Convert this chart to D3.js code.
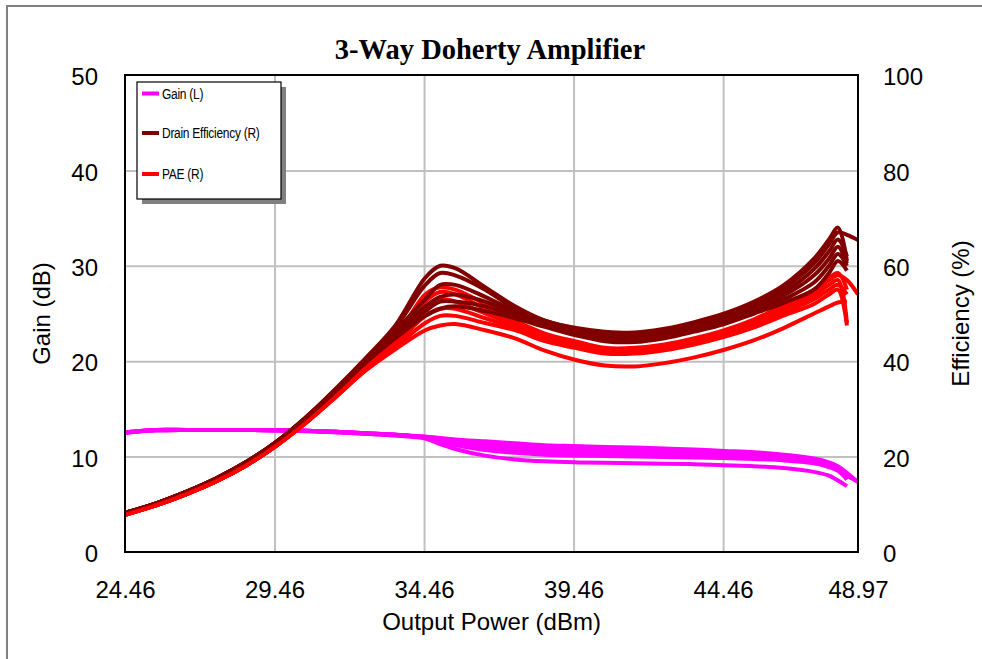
<!DOCTYPE html>
<html>
<head>
<meta charset="utf-8">
<script src="https://cdn.jsdelivr.net/npm/d3@7"></script>
<style>
  body { margin: 0; background: #fff; }
  svg { display: block; }
  text { font-family: "Liberation Sans", Arial, sans-serif; fill: #000; }
  text.title { font-family: "Liberation Serif", "Times New Roman", serif; font-weight: bold; }
</style>
</head>
<body>
<svg id="chart"></svg>
<script>
// output power sweep (dBm), shared by every curve
const pout = [24.46, 25.5, 26.5, 27.5, 28.5, 29.5, 30.5, 31.5, 32.5, 33.5, 34.5, 35.0, 35.5, 36.5, 37.5, 38.5,
              39.5, 40.5, 41.5, 42.5, 43.5, 44.5, 45.5, 46.5, 47.5, 48.0, 48.3, 48.6, 48.97];

// gain (dB), one row per frequency
const gain = [
  [12.55, 12.8, 12.8, 12.8, 12.8, 12.75, 12.7, 12.6, 12.45, 12.3, 12.1, 11.95, 11.8, 11.6, 11.4, 11.2, 11.1, 11.0, 10.95, 10.85, 10.75, 10.6, 10.45, 10.2, 9.8, 9.4, 9.0, 8.3, 7.3],
  [12.55, 12.8, 12.8, 12.8, 12.8, 12.75, 12.7, 12.6, 12.45, 12.3, 12.05, 11.9, 11.7, 11.5, 11.2, 11.0, 10.9, 10.85, 10.8, 10.7, 10.6, 10.5, 10.35, 10.1, 9.7, 9.3, 8.9, 7.6, null],
  [12.5, 12.75, 12.8, 12.8, 12.8, 12.75, 12.7, 12.6, 12.45, 12.3, 12.0, 11.7, 11.4, 11.0, 10.7, 10.5, 10.4, 10.35, 10.3, 10.25, 10.2, 10.1, 10.0, 9.8, 9.5, 9.1, 8.7, 7.8, null],
  [12.5, 12.75, 12.8, 12.8, 12.8, 12.75, 12.7, 12.55, 12.4, 12.25, 12.0, 11.6, 11.2, 10.7, 10.4, 10.2, 10.1, 10.05, 10.0, 9.95, 9.9, 9.85, 9.75, 9.6, 9.3, 8.9, 8.5, 7.6, null],
  [12.5, 12.75, 12.8, 12.8, 12.8, 12.75, 12.65, 12.55, 12.4, 12.2, 11.9, 11.3, 10.8, 10.1, 9.7, 9.5, 9.4, 9.35, 9.3, 9.25, 9.2, 9.1, 9.0, 8.8, 8.4, 8.0, 7.5, 6.9, null],
  [12.55, 12.8, 12.8, 12.8, 12.8, 12.75, 12.7, 12.6, 12.45, 12.3, 12.05, 11.85, 11.65, 11.3, 11.0, 10.8, 10.75, 10.7, 10.65, 10.55, 10.45, 10.35, 10.2, 10.0, 9.6, 9.2, 8.8, 8.0, 7.4]
];

// drain efficiency (%), one row per frequency
const drainEff = [
  [8.2, 10.2, 12.6, 15.4, 18.8, 23.0, 28.2, 34.2, 40.6, 47.5, 57.5, 60.0, 59.5, 55.5, 51.5, 48.5, 47.0, 46.2, 46.0, 46.8, 48.2, 50.0, 52.5, 56.0, 61.5, 65.5, 68.0, 61.0, null],
  [8.2, 10.2, 12.6, 15.4, 18.8, 23.0, 28.2, 34.1, 40.4, 47.0, 56.0, 58.5, 58.0, 55.0, 51.0, 48.5, 46.8, 45.8, 45.6, 46.4, 47.8, 49.6, 52.0, 55.3, 60.5, 64.5, 67.0, 66.5, 65.4],
  [8.2, 10.2, 12.6, 15.4, 18.8, 23.0, 28.1, 34.0, 40.2, 46.3, 53.0, 56.0, 56.0, 53.5, 50.5, 48.0, 46.5, 45.4, 45.2, 46.0, 47.4, 49.2, 51.5, 54.5, 59.3, 63.0, 65.5, 62.0, null],
  [8.2, 10.2, 12.6, 15.4, 18.8, 23.0, 28.1, 33.9, 40.0, 45.8, 51.5, 53.5, 54.0, 52.5, 50.0, 48.0, 46.2, 45.0, 44.8, 45.6, 47.0, 48.8, 51.0, 53.8, 58.0, 61.5, 64.0, 60.5, null],
  [8.2, 10.2, 12.6, 15.4, 18.8, 23.0, 28.0, 33.8, 39.8, 45.3, 50.5, 52.5, 52.5, 51.5, 49.5, 47.5, 45.8, 44.6, 44.4, 45.2, 46.6, 48.3, 50.5, 53.0, 56.5, 60.0, 62.5, 60.0, null],
  [8.2, 10.2, 12.6, 15.4, 18.8, 23.0, 28.0, 33.7, 39.6, 44.8, 49.5, 51.0, 51.5, 50.5, 49.0, 47.2, 45.5, 44.2, 44.0, 44.8, 46.2, 47.8, 50.0, 52.3, 55.0, 58.5, 61.0, 59.0, null]
];

// power added efficiency (%), one row per frequency
const pae = [
  [7.8, 9.8, 12.1, 14.8, 18.1, 22.2, 27.2, 32.9, 39.0, 45.0, 54.0, 55.5, 55.0, 52.0, 48.5, 45.8, 44.2, 42.8, 42.8, 43.5, 44.8, 46.5, 48.8, 51.8, 55.0, 57.5, 58.5, 55.0, null],
  [7.8, 9.8, 12.1, 14.8, 18.1, 22.2, 27.2, 32.8, 38.8, 44.5, 52.5, 54.5, 54.0, 51.0, 48.0, 45.5, 43.8, 42.5, 42.5, 43.2, 44.5, 46.2, 48.4, 51.3, 54.5, 57.0, 58.0, 57.0, 54.0],
  [7.8, 9.8, 12.1, 14.8, 18.1, 22.2, 27.1, 32.7, 38.6, 44.0, 51.0, 53.0, 52.5, 50.0, 47.5, 45.0, 43.5, 42.2, 42.2, 42.9, 44.2, 45.8, 48.0, 50.8, 53.8, 56.0, 57.0, 48.0, null],
  [7.8, 9.8, 12.1, 14.8, 18.1, 22.2, 27.1, 32.6, 38.4, 43.5, 49.5, 51.0, 51.0, 49.0, 47.0, 44.6, 43.2, 41.9, 41.9, 42.6, 43.9, 45.5, 47.6, 50.2, 53.0, 55.0, 56.0, 54.0, null],
  [7.8, 9.8, 12.1, 14.8, 18.1, 22.2, 27.0, 32.5, 38.2, 43.0, 48.0, 49.5, 49.5, 48.0, 46.5, 44.2, 42.8, 41.6, 41.6, 42.3, 43.5, 45.1, 47.1, 49.6, 52.0, 54.0, 55.0, 47.5, null],
  [7.8, 9.8, 12.1, 14.8, 18.1, 22.2, 27.0, 32.4, 38.0, 42.5, 46.5, 47.5, 47.8, 46.5, 44.8, 42.2, 40.3, 39.1, 38.9, 39.6, 40.8, 42.4, 44.4, 47.0, 50.0, 51.5, 52.3, 52.5, null]
];

const xTicks = [24.46, 29.46, 34.46, 39.46, 44.46, 48.97];
const gainTicks = [0, 10, 20, 30, 40, 50];
const effTicks = [0, 20, 40, 60, 80, 100];

const seriesNames = ["Gain (L)", "Drain Efficiency (R)", "PAE (R)"];
const seriesColors = ["#ff00ff", "#800000", "#ff0000"];

const W = 982, H = 659;
const plot = { left: 125, right: 858, top: 75, bottom: 552 };

const svg = d3.select("#chart").attr("width", W).attr("height", H);

// outer chart frame
svg.append("rect")
  .attr("x", 7).attr("y", 6).attr("width", W + 10).attr("height", H + 10)
  .attr("fill", "#fff").attr("stroke", "#808080").attr("stroke-width", 2);

const x = d3.scaleLinear().domain([24.46, 48.97]).range([plot.left, plot.right]);
const yGain = d3.scaleLinear().domain([0, 50]).range([plot.bottom, plot.top]);
const yEff = d3.scaleLinear().domain([0, 100]).range([plot.bottom, plot.top]);

// grid lines
svg.append("g")
  .attr("transform", `translate(0,${plot.bottom})`)
  .call(d3.axisBottom(x).tickValues(xTicks.slice(1, -1)).tickSize(-(plot.bottom - plot.top)).tickFormat(""))
  .call(g => g.select(".domain").remove())
  .call(g => g.selectAll("line").attr("stroke", "#c0c0c0").attr("stroke-width", 2));

svg.append("g")
  .attr("transform", `translate(${plot.left},0)`)
  .call(d3.axisLeft(yGain).tickValues(gainTicks.slice(1, -1)).tickSize(-(plot.right - plot.left)).tickFormat(""))
  .call(g => g.select(".domain").remove())
  .call(g => g.selectAll("line").attr("stroke", "#c0c0c0").attr("stroke-width", 2));

// curves
svg.append("clipPath").attr("id", "plotClip")
  .append("rect").attr("x", plot.left).attr("y", plot.top)
  .attr("width", plot.right - plot.left + 2).attr("height", plot.bottom - plot.top);

function makeLine(yScale) {
  return d3.line()
    .defined(d => d[1] != null)
    .x(d => x(d[0]))
    .y(d => yScale(d[1]))
    .curve(d3.curveCatmullRom.alpha(0.5));
}
const gainLine = makeLine(yGain);
const effLine = makeLine(yEff);
const pts = vals => pout.map((p, i) => [p, vals[i]]);

const curves = svg.append("g").attr("clip-path", "url(#plotClip)")
  .attr("fill", "none").attr("stroke-width", 4).attr("stroke-linejoin", "round");

gain.forEach(row => {
  curves.append("path").attr("d", gainLine(pts(row))).attr("stroke", seriesColors[0]);
});
drainEff.forEach((row, i) => {
  curves.append("path").attr("d", effLine(pts(row))).attr("stroke", seriesColors[1]);
  curves.append("path").attr("d", effLine(pts(pae[i]))).attr("stroke", seriesColors[2]);
});

// plot frame
svg.append("rect")
  .attr("x", plot.left).attr("y", plot.top)
  .attr("width", plot.right - plot.left).attr("height", plot.bottom - plot.top)
  .attr("fill", "none").attr("stroke", "#000").attr("stroke-width", 2);

// axes labels
const fontSize = 24;
svg.append("g")
  .attr("transform", `translate(0,${plot.bottom + 38})`)
  .call(d3.axisBottom(x).tickValues(xTicks).tickSize(0).tickPadding(0).tickFormat(d3.format(".2f")))
  .call(g => g.select(".domain").remove())
  .call(g => g.selectAll("text").attr("font-size", fontSize).attr("dy", "0.32em"));

svg.append("g")
  .attr("transform", `translate(${plot.left - 27},2)`)
  .call(d3.axisLeft(yGain).tickValues(gainTicks).tickSize(0).tickPadding(0))
  .call(g => g.select(".domain").remove())
  .call(g => g.selectAll("text").attr("font-size", fontSize));

svg.append("g")
  .attr("transform", `translate(${plot.right + 25},2)`)
  .call(d3.axisRight(yEff).tickValues(effTicks).tickSize(0).tickPadding(0))
  .call(g => g.select(".domain").remove())
  .call(g => g.selectAll("text").attr("font-size", fontSize));

svg.append("text")
  .attr("x", (plot.left + plot.right) / 2).attr("y", 630)
  .attr("text-anchor", "middle").attr("font-size", fontSize)
  .text("Output Power (dBm)");

svg.append("text")
  .attr("transform", `translate(50,${(plot.top + plot.bottom) / 2}) rotate(-90)`)
  .attr("text-anchor", "middle").attr("font-size", fontSize)
  .text("Gain (dB)");

svg.append("text")
  .attr("transform", `translate(969,${(plot.top + plot.bottom) / 2}) rotate(-90)`)
  .attr("text-anchor", "middle").attr("font-size", fontSize)
  .text("Efficiency (%)");

// title
svg.append("text")
  .attr("class", "title")
  .attr("x", 490).attr("y", 59)
  .attr("text-anchor", "middle")
  .attr("font-size", 28.5)
  .text("3-Way Doherty Amplifier");

// legend
const legend = svg.append("g").attr("transform", "translate(137,82)");
legend.append("rect").attr("x", 5).attr("y", 5).attr("width", 144).attr("height", 117).attr("fill", "#808080");
legend.append("rect").attr("width", 144).attr("height", 117).attr("fill", "#fff").attr("stroke", "#000").attr("stroke-width", 1.2);

const rowY = [11.5, 51, 92];
seriesNames.forEach((name, i) => {
  const row = legend.append("g").attr("transform", `translate(0,${rowY[i]})`);
  row.append("line").attr("x1", 5).attr("x2", 22).attr("y1", 0).attr("y2", 0)
    .attr("stroke", seriesColors[i]).attr("stroke-width", 4);
  row.append("text")
    .attr("transform", "translate(25,0) scale(0.8,1)")
    .attr("dy", "0.35em").attr("font-size", 15)
    .attr("letter-spacing", -0.35)
    .text(name);
});
</script>
</body>
</html>
